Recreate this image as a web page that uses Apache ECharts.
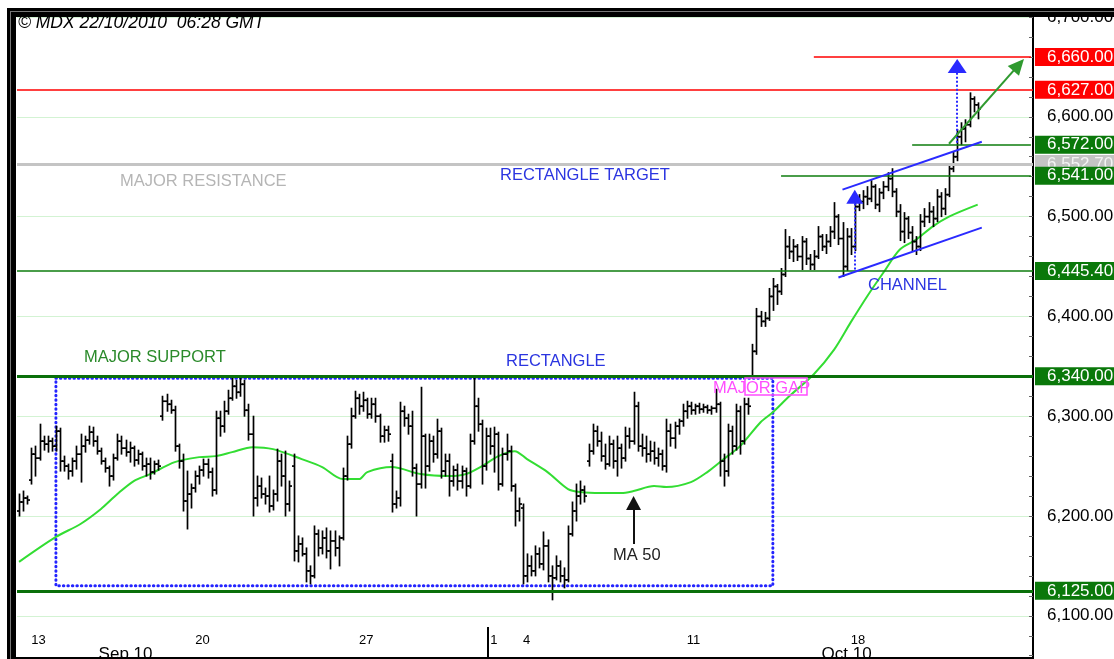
<!DOCTYPE html>
<html>
<head>
<meta charset="utf-8">
<title>MDX hourly</title>
<script src="https://cdn.jsdelivr.net/npm/echarts@6/dist/echarts.min.js"></script>
<style>
  html, body { margin: 0; padding: 0; background: #fff; }
  #chart { width: 1114px; height: 659px; }
</style>
</head>
<body>
<div id="chart"></div>
<script>
  // trading days on screen, hourly bars (8 a day, only the last 3 of Sep 10)
  var dayNames = ['Sep 10', 'Sep 13', 'Sep 14', 'Sep 15', 'Sep 16', 'Sep 17',
    'Sep 20', 'Sep 21', 'Sep 22', 'Sep 23', 'Sep 24', 'Sep 27', 'Sep 28', 'Sep 29', 'Sep 30', 'Oct 1',
    'Oct 4', 'Oct 5', 'Oct 6', 'Oct 7', 'Oct 8', 'Oct 11', 'Oct 12', 'Oct 13', 'Oct 14', 'Oct 15',
    'Oct 18', 'Oct 19', 'Oct 20', 'Oct 21'];

  // [open, high, low, close] per hourly bar
  var dayBars = [
    [[6205, 6222, 6200, 6214], [6214, 6225, 6205, 6218], [6218, 6220, 6212, 6216]],
    [[6236, 6268, 6232, 6262], [6262, 6270, 6240, 6258], [6258, 6292, 6256, 6275], [6275, 6280, 6266, 6272],
     [6272, 6280, 6264, 6275], [6275, 6278, 6265, 6270], [6270, 6290, 6265, 6285], [6285, 6288, 6245, 6255]],
    [[6255, 6260, 6245, 6250], [6250, 6252, 6237, 6245], [6245, 6258, 6240, 6255], [6255, 6270, 6247, 6262],
     [6262, 6282, 6234, 6270], [6270, 6280, 6264, 6276], [6276, 6290, 6272, 6284], [6284, 6289, 6270, 6275]],
    [[6275, 6280, 6262, 6265], [6265, 6268, 6252, 6255], [6255, 6258, 6244, 6248], [6248, 6250, 6230, 6240],
     [6240, 6262, 6236, 6258], [6258, 6282, 6256, 6275], [6275, 6280, 6262, 6268], [6268, 6276, 6260, 6264]],
    [[6264, 6274, 6254, 6268], [6268, 6270, 6250, 6256], [6256, 6266, 6252, 6262], [6262, 6264, 6246, 6250],
     [6250, 6258, 6240, 6252], [6252, 6258, 6237, 6244], [6244, 6255, 6242, 6252], [6252, 6256, 6246, 6250]],
    [[6300, 6320, 6296, 6315], [6315, 6322, 6305, 6312], [6312, 6316, 6303, 6306], [6306, 6310, 6265, 6270],
     [6270, 6272, 6248, 6255], [6255, 6262, 6205, 6215], [6215, 6245, 6187, 6222], [6222, 6232, 6208, 6228]],
    [[6228, 6245, 6224, 6240], [6240, 6250, 6232, 6246], [6246, 6257, 6240, 6252], [6252, 6257, 6238, 6244],
     [6244, 6248, 6220, 6226], [6226, 6305, 6222, 6298], [6298, 6305, 6280, 6290], [6290, 6315, 6284, 6305]],
    [[6305, 6326, 6302, 6318], [6318, 6338, 6316, 6330], [6330, 6336, 6318, 6324], [6324, 6340, 6320, 6332],
     [6332, 6336, 6300, 6306], [6306, 6312, 6276, 6282], [6282, 6300, 6200, 6218], [6218, 6240, 6210, 6230]],
    [[6230, 6238, 6218, 6222], [6222, 6228, 6212, 6220], [6220, 6240, 6204, 6210], [6210, 6226, 6206, 6222],
     [6222, 6267, 6215, 6255], [6255, 6262, 6230, 6240], [6240, 6265, 6200, 6212], [6212, 6235, 6205, 6230]],
    [[6250, 6262, 6155, 6165], [6165, 6180, 6154, 6172], [6172, 6178, 6160, 6162], [6162, 6168, 6134, 6145],
     [6145, 6150, 6132, 6140], [6140, 6190, 6138, 6182], [6182, 6186, 6160, 6168], [6168, 6185, 6162, 6178]],
    [[6178, 6188, 6158, 6165], [6165, 6185, 6147, 6175], [6175, 6185, 6160, 6168], [6168, 6180, 6150, 6178],
     [6178, 6248, 6176, 6240], [6240, 6280, 6236, 6272], [6272, 6308, 6268, 6300], [6300, 6325, 6298, 6318]],
    [[6318, 6322, 6302, 6310], [6310, 6324, 6305, 6316], [6316, 6318, 6298, 6302], [6302, 6318, 6298, 6312],
     [6312, 6318, 6294, 6300], [6300, 6302, 6274, 6280], [6280, 6290, 6274, 6286], [6286, 6290, 6275, 6282]],
    [[6255, 6262, 6204, 6212], [6212, 6225, 6208, 6218], [6218, 6314, 6210, 6305], [6305, 6310, 6290, 6298],
     [6298, 6302, 6282, 6290], [6290, 6305, 6240, 6248], [6248, 6252, 6200, 6232], [6232, 6329, 6228, 6280]],
    [[6280, 6282, 6228, 6250], [6250, 6282, 6245, 6275], [6275, 6280, 6254, 6262], [6262, 6297, 6258, 6285],
     [6285, 6288, 6238, 6245], [6245, 6262, 6240, 6255], [6255, 6262, 6220, 6235], [6235, 6250, 6230, 6246]],
    [[6246, 6252, 6226, 6235], [6235, 6250, 6228, 6245], [6245, 6248, 6220, 6230], [6230, 6282, 6228, 6275],
     [6275, 6340, 6272, 6310], [6310, 6318, 6285, 6292], [6292, 6296, 6232, 6250], [6250, 6288, 6246, 6280]],
    [[6280, 6288, 6262, 6270], [6270, 6289, 6244, 6282], [6282, 6284, 6226, 6232], [6232, 6268, 6230, 6262],
     [6262, 6282, 6256, 6265], [6265, 6270, 6225, 6230], [6230, 6232, 6190, 6205], [6205, 6218, 6195, 6212]],
    [[6208, 6212, 6132, 6140], [6140, 6162, 6134, 6150], [6150, 6160, 6140, 6145], [6145, 6170, 6140, 6162],
     [6162, 6168, 6148, 6152], [6152, 6184, 6146, 6170], [6170, 6176, 6134, 6140], [6140, 6150, 6116, 6138]],
    [[6138, 6160, 6136, 6150], [6150, 6155, 6134, 6140], [6140, 6148, 6128, 6136], [6136, 6190, 6134, 6182],
     [6182, 6214, 6180, 6205], [6205, 6232, 6195, 6220], [6220, 6235, 6212, 6226], [6226, 6230, 6214, 6220]],
    [[6255, 6272, 6250, 6265], [6265, 6292, 6262, 6285], [6285, 6290, 6270, 6275], [6275, 6284, 6255, 6260],
     [6260, 6272, 6247, 6252], [6252, 6280, 6250, 6272], [6272, 6276, 6248, 6255], [6255, 6280, 6240, 6268]],
    [[6268, 6272, 6248, 6258], [6258, 6289, 6255, 6280], [6280, 6288, 6268, 6275], [6275, 6324, 6272, 6310],
     [6310, 6314, 6265, 6270], [6270, 6282, 6260, 6268], [6268, 6280, 6254, 6262], [6262, 6275, 6255, 6265]],
    [[6265, 6274, 6252, 6258], [6258, 6268, 6250, 6262], [6262, 6266, 6246, 6250], [6250, 6297, 6244, 6285],
     [6285, 6292, 6270, 6278], [6278, 6294, 6268, 6290], [6290, 6297, 6282, 6295], [6295, 6312, 6290, 6305]],
    [[6305, 6315, 6298, 6310], [6310, 6314, 6302, 6306], [6306, 6312, 6302, 6310], [6310, 6313, 6303, 6307],
     [6307, 6312, 6304, 6309], [6309, 6311, 6303, 6306], [6306, 6310, 6302, 6308], [6308, 6327, 6304, 6312]],
    [[6312, 6314, 6240, 6255], [6255, 6262, 6230, 6245], [6245, 6292, 6240, 6285], [6285, 6290, 6262, 6270],
     [6270, 6312, 6266, 6305], [6305, 6310, 6262, 6275], [6275, 6318, 6272, 6312], [6312, 6318, 6302, 6310]],
    [[6340, 6372, 6338, 6365], [6365, 6408, 6362, 6400], [6400, 6405, 6390, 6395], [6395, 6404, 6390, 6398],
     [6398, 6428, 6396, 6420], [6420, 6438, 6406, 6430], [6430, 6432, 6412, 6425], [6425, 6448, 6422, 6442]],
    [[6442, 6487, 6440, 6470], [6470, 6480, 6458, 6465], [6465, 6477, 6455, 6470], [6470, 6472, 6456, 6460],
     [6460, 6480, 6447, 6475], [6475, 6478, 6452, 6458], [6458, 6462, 6447, 6452], [6452, 6466, 6447, 6460]],
    [[6460, 6490, 6458, 6480], [6480, 6482, 6466, 6470], [6470, 6482, 6463, 6475], [6475, 6490, 6470, 6485],
     [6485, 6514, 6478, 6500], [6500, 6502, 6472, 6478], [6478, 6494, 6440, 6450], [6450, 6488, 6446, 6480]],
    [[6480, 6488, 6462, 6470], [6470, 6518, 6466, 6510], [6510, 6522, 6506, 6515], [6515, 6526, 6508, 6520],
     [6520, 6530, 6512, 6518], [6518, 6536, 6515, 6530], [6530, 6532, 6508, 6512], [6512, 6528, 6505, 6524]],
    [[6524, 6535, 6518, 6530], [6530, 6544, 6526, 6538], [6538, 6548, 6520, 6525], [6525, 6528, 6500, 6505],
     [6505, 6512, 6476, 6485], [6485, 6504, 6474, 6498], [6498, 6500, 6478, 6484], [6484, 6490, 6466, 6475]],
    [[6475, 6480, 6462, 6470], [6470, 6502, 6466, 6495], [6495, 6508, 6490, 6500], [6500, 6514, 6494, 6505],
     [6505, 6510, 6490, 6498], [6498, 6527, 6495, 6520], [6520, 6524, 6500, 6508], [6508, 6528, 6502, 6522]],
    [[6522, 6552, 6520, 6548], [6548, 6565, 6545, 6560], [6560, 6587, 6556, 6580], [6580, 6594, 6572, 6588],
     [6588, 6597, 6575, 6592], [6592, 6624, 6590, 6618], [6618, 6620, 6605, 6612], [6612, 6614, 6598, 6608]]
  ];

  // 50 period moving average at these bars
  var maBar = [0, 9, 15, 20, 24, 28, 32, 38, 44, 48, 52, 57, 62, 69, 74, 79, 83, 85, 91, 98, 105, 109,
    113, 117, 121, 124, 129, 134, 137, 142, 147, 150, 155, 158, 164, 168, 172, 176, 181, 184, 188,
    194, 199, 203, 207, 211, 215, 219, 223, 227, 234];
  var maValue = [6154, 6179, 6192, 6207, 6222, 6235, 6242, 6254, 6259, 6260, 6264, 6269, 6267, 6257,
    6249, 6237, 6237, 6244, 6249, 6242, 6240, 6242, 6250, 6260, 6265, 6257, 6244, 6227, 6224, 6223,
    6223, 6225, 6230, 6229, 6234, 6244, 6257, 6270, 6294, 6304, 6320, 6342, 6367, 6394, 6420, 6444,
    6467, 6477, 6490, 6500, 6512];

  // date axis ticks (bar index of the first bar of that day)
  var tickBar = [3, 43, 83, 115, 123, 163, 203];
  var tickText = ['13', '20', '27', '1', '4', '11', '18'];
  var monthBar = [26, 202];
  var monthText = ['Sep 10', 'Oct 10'];
  var monthStartBar = 115;

  // price levels drawn across the chart, and the bar they start from (null = full width)
  var levelValues = [6552.7, 6627, 6660, 6572, 6541, 6445.4, 6340, 6125];
  var levelFrom = [null, null, 194, 218, 186, null, null, null];

  // drawn trend marks, [bar, price] end points
  var channelTop = [[201, 6527], [235, 6575]];
  var channelLow = [[200, 6439], [235, 6489]];
  var flagMove = [[204, 6447], [204, 6520]];
  var targetMove = [[229, 6574], [229, 6651]];
  var trendArrow = [[227, 6573], [244, 6652]];
  var maPointer = [[150, 6172], [150, 6213]];
  var rectangleBox = [[9, 6338], [184, 6130]];

  var totalSlots = 248;

  var categories = [];
  var bars = [];
  dayBars.forEach(function (list, d) {
    list.forEach(function (b, k) {
      bars.push([categories.length, b[0], b[1], b[2], b[3]]);
      categories.push(dayNames[d] + ' ' + (k + 1));
    });
  });
  while (categories.length < totalSlots) categories.push('');
  // bar boundaries (one more than bars) for the month separator
  var boundaries = categories.concat(['']);
  var maData = maBar.map(function (b, i) { return [b, maValue[i]]; });

  function fmt(v) {
    return Number(v).toFixed(2).replace(/\B(?=(\d{3})+(?!\d))/g, ',');
  }

  var levelLook = {
    6552.7: {line: '#c4c4c4', width: 3, box: '#c4c4c4', text: '#f4f4f4'},
    6627: {line: '#ff0000', width: 1.5, box: '#ff0000', text: '#fff'},
    6660: {line: '#ff0000', width: 1.5, box: '#ff0000', text: '#fff'},
    6572: {line: '#0e7d0e', width: 1.5, box: '#0a780a', text: '#fff'},
    6541: {line: '#0e7d0e', width: 1.5, box: '#0a780a', text: '#fff'},
    6445.4: {line: '#0e7d0e', width: 1.5, box: '#0a780a', text: '#fff'},
    6340: {line: '#0a700a', width: 3, box: '#0a780a', text: '#fff'},
    6125: {line: '#0a700a', width: 3, box: '#0a780a', text: '#fff'}
  };

  var marks = [];
  levelValues.forEach(function (v, i) {
    var look = levelLook[v];
    var label = {
      show: true, position: 'end', distance: levelFrom[i] === null ? 2 : 4,
      formatter: fmt(v), color: look.text, backgroundColor: look.box,
      fontSize: 17, lineHeight: 17, padding: [1, 8, 0, 12]
    };
    var ls = {color: look.line, width: look.width, type: 'solid'};
    if (levelFrom[i] === null) {
      marks.push({yAxis: v, lineStyle: ls, label: label});
    } else {
      marks.push([{coord: [levelFrom[i], v], lineStyle: ls, label: label}, {coord: [totalSlots - 1, v]}]);
    }
  });

  function segment(pts, color, width, type, head, headSize) {
    return [
      {coord: pts[0], symbol: 'none', lineStyle: {color: color, width: width, type: type}, label: {show: false}},
      {coord: pts[1], symbol: head || 'none', symbolSize: headSize || 0, itemStyle: {color: color}}
    ];
  }
  marks.push(segment(channelTop, '#2a2aff', 2, 'solid'));
  marks.push(segment(channelLow, '#2a2aff', 2, 'solid'));
  marks.push(segment(flagMove, '#2a2aff', 2, 'dotted', 'triangle', [17, 14]));
  marks.push(segment(targetMove, '#2a2aff', 2, 'dotted', 'triangle', [19, 14]));
  marks.push(segment(trendArrow, '#2f9a2f', 2, 'solid', 'triangle', [15, 16]));
  marks.push(segment(maPointer, '#111', 2, 'solid', 'triangle', [15, 14]));

  function drawBar(params, api) {
    var i = api.value(0);
    var x = Math.round(api.coord([i, api.value(1)])[0]) + 0.5;
    var yo = api.coord([i, api.value(1)])[1];
    var yh = api.coord([i, api.value(2)])[1];
    var yl = api.coord([i, api.value(3)])[1];
    var yc = api.coord([i, api.value(4)])[1];
    var st = {stroke: '#000', lineWidth: 1.7};
    return {
      type: 'group',
      children: [
        {type: 'line', shape: {x1: x, y1: yh - 0.5, x2: x, y2: yl + 0.5}, style: st},
        {type: 'line', shape: {x1: x - 2.5, y1: yo, x2: x, y2: yo}, style: st},
        {type: 'line', shape: {x1: x, y1: yc, x2: x + 2.5, y2: yc}, style: st}
      ]
    };
  }

  function annText(txt, x, y, color, extra) {
    return {
      type: 'text', x: x, y: y, z: 50,
      style: Object.assign({
        text: txt, fill: color, fontSize: 16.5, fontFamily: 'Liberation Sans',
        verticalAlign: 'middle'
      }, extra || {})
    };
  }

  function pickBar(list) {
    return function (idx) { return list.indexOf(idx) >= 0; };
  }

  var chart = echarts.init(document.getElementById('chart'));
  chart.setOption({
    animation: false,
    backgroundColor: '#fff',
    textStyle: {fontFamily: 'Liberation Sans'},
    grid: [
      {left: 17, right: 81, top: 17, height: 698.6, outerBoundsMode: 'none', containLabel: false},
      {left: 17, right: 81, top: 627, bottom: 0, outerBoundsMode: 'none', containLabel: false}
    ],
    xAxis: [
      {type: 'category', gridIndex: 0, data: categories, boundaryGap: true, show: false},
      {
        // day numbers
        type: 'category', gridIndex: 1, data: categories, boundaryGap: true, position: 'top',
        axisLine: {show: false}, splitLine: {show: false},
        axisTick: {
          show: true, inside: true, length: 9, lineStyle: {color: '#a8a8a8', width: 1},
          interval: pickBar(tickBar)
        },
        axisLabel: {
          show: true, inside: true, margin: 7, align: 'left', fontSize: 13, color: '#000',
          interval: pickBar(tickBar),
          formatter: function (v, idx) { var k = tickBar.indexOf(idx); return k >= 0 ? tickText[k] : ''; }
        }
      },
      {
        // month names
        type: 'category', gridIndex: 1, data: categories, boundaryGap: true, position: 'top',
        axisLine: {show: false}, axisTick: {show: false}, splitLine: {show: false},
        axisLabel: {
          show: true, inside: true, margin: 19, fontSize: 17, color: '#000',
          interval: pickBar(monthBar),
          formatter: function (v, idx) { var k = monthBar.indexOf(idx); return k >= 0 ? monthText[k] : ''; }
        }
      },
      {
        // month separator, on the bar boundaries
        type: 'category', gridIndex: 1, data: boundaries, boundaryGap: false, position: 'top',
        axisLine: {show: false}, axisLabel: {show: false}, splitLine: {show: false},
        axisTick: {
          show: true, inside: true, length: 34, lineStyle: {color: '#000', width: 2},
          interval: pickBar([monthStartBar])
        }
      }
    ],
    yAxis: [
      {
        type: 'value', gridIndex: 0, position: 'right', min: 6000, max: 6700, interval: 100,
        axisLine: {show: true, lineStyle: {color: '#000', width: 2}},
        axisTick: {show: true, inside: true, length: 4, lineStyle: {color: '#666'}},
        minorTick: {show: true, splitNumber: 5, length: 4, lineStyle: {color: '#666'}},
        axisLabel: {color: '#000', fontSize: 17, margin: 14, formatter: fmt},
        splitLine: {show: true, lineStyle: {color: '#d3f3d3', width: 1}}
      },
      {type: 'value', gridIndex: 1, show: false}
    ],
    series: [
      {
        name: 'MA 50', type: 'line', xAxisIndex: 0, yAxisIndex: 0, data: maData,
        showSymbol: false, smooth: 0.3, z: 2,
        lineStyle: {color: '#33dd33', width: 2}
      },
      {
        name: 'MDX', type: 'custom', xAxisIndex: 0, yAxisIndex: 0, data: bars, z: 3,
        renderItem: drawBar, encode: {x: 0, y: [1, 2, 3, 4]},
        markArea: {
          silent: true,
          itemStyle: {
            color: 'rgba(0,0,0,0)', borderColor: '#2424ff', borderWidth: 3,
            borderType: [0.5, 4], borderCap: 'round'
          },
          data: [[{coord: rectangleBox[0]}, {coord: rectangleBox[1]}]]
        },
        markLine: {
          silent: true, symbol: ['none', 'none'], precision: 2,
          label: {show: false},
          data: marks
        }
      }
    ],
    graphic: [
      annText('\u00a9 MDX 22/10/2010  06:28 GMT', 18, 23, '#000', {fontStyle: 'italic', fontSize: 17.5}),
      annText('MAJOR RESISTANCE', 120, 181, '#b5b5b5'),
      annText('RECTANGLE TARGET', 500, 175, '#2b35e0'),
      annText('MAJOR SUPPORT', 84, 357, '#2a8a2a'),
      annText('RECTANGLE', 506, 361, '#2b35e0'),
      annText('MAJOR GAP', 713, 388, '#ff4dff'),
      annText('CHANNEL', 868, 285, '#2b35e0'),
      annText('MA 50', 613, 555, '#222'),
      {type: 'rect', z: 50, shape: {x: 745, y: 378, width: 62, height: 17},
        style: {fill: 'none', stroke: '#ff4dff', lineWidth: 1.5}},
      // chart frame
      {type: 'rect', z: 60, shape: {x: 7, y: 8, width: 1107, height: 9}, style: {fill: '#000'}},
      {type: 'rect', z: 60, shape: {x: 7, y: 8, width: 9, height: 651}, style: {fill: '#000'}},
      {type: 'rect', z: 61, shape: {x: 10, y: 11, width: 1104, height: 1}, style: {fill: '#777'}},
      {type: 'rect', z: 61, shape: {x: 10, y: 11, width: 1, height: 648}, style: {fill: '#777'}},
      {type: 'rect', z: 60, shape: {x: 7, y: 657, width: 1026, height: 2}, style: {fill: '#000'}}
    ]
  });
</script>
</body>
</html>
